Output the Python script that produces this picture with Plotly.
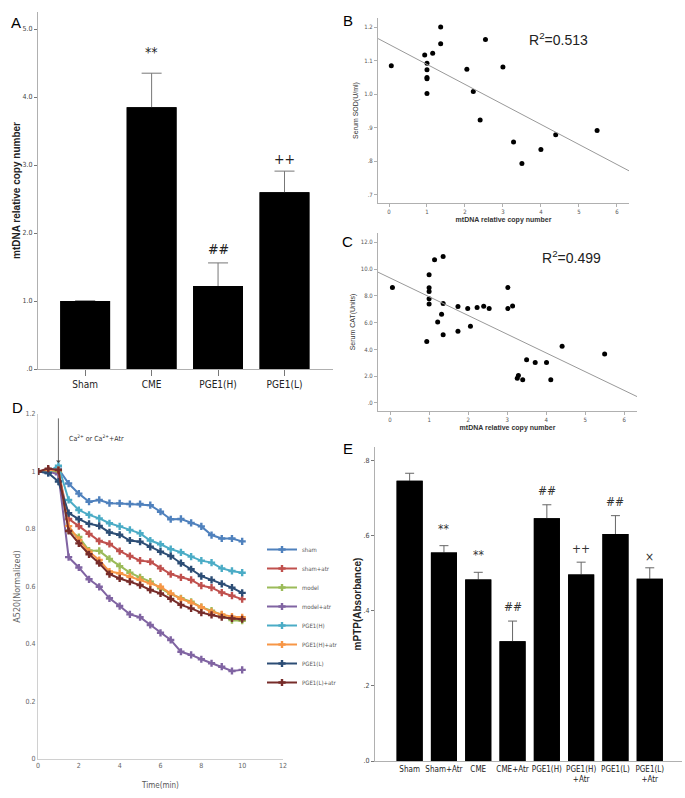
import plotly.graph_objects as go

W, H = 685, 798
NARROW = "Liberation Sans Narrow, DejaVu Sans Condensed, Arial Narrow, sans-serif"
SANS = "Liberation Sans, Arial, sans-serif"

# ---------- Panel A ----------
a_groups = ["Sham", "CME", "PGE1(H)", "PGE1(L)"]
a_values = [1.0, 3.85, 1.22, 2.60]
a_errors = [0.0, 0.50, 0.34, 0.31]
a_marks = ["", "**", "##", "++"]
a_yticks = [0, 1, 2, 3, 4, 5]
a_yticklabels = [".0", "1.0", "2.0", "3.0", "4.0", "5.0"]

# ---------- Panel B ----------
b_x = [0.06, 1.36, 1.36, 0.94, 1.15, 1.0, 1.0, 1.0, 1.0, 1.0, 2.54, 2.05, 3.0, 2.22, 2.40, 3.28, 3.50, 4.0, 4.39, 5.48]
b_y = [1.085, 1.20, 1.15, 1.117, 1.122, 1.092, 1.073, 1.05, 1.046, 1.002, 1.163, 1.074, 1.081, 1.008, 0.923, 0.858, 0.794, 0.835, 0.879, 0.892]
b_fit = (1.1485, -0.0596)  # intercept, slope
b_r2 = "0.513"
b_yticks = [0.7, 0.8, 0.9, 1.0, 1.1, 1.2]
b_yticklabels = [".7", ".8", ".9", "1.0", "1.1", "1.2"]

# ---------- Panel C ----------
c_x = [0.06, 1.14, 1.36, 1.0, 1.0, 1.0, 1.0, 1.0, 1.36, 1.32, 1.22, 1.36, 0.94, 1.74, 1.74, 1.99,
       2.06, 2.23, 2.40, 2.54, 3.02, 3.02, 3.14, 3.26, 3.29, 3.40, 3.50, 3.72, 4.01, 4.12, 4.41, 5.50]
c_y = [8.63, 10.70, 10.95, 9.58, 8.60, 8.33, 7.78, 7.40, 7.43, 6.63, 6.05, 5.10, 4.60, 7.20, 5.35, 7.05,
       5.73, 7.13, 7.23, 7.05, 8.63, 7.05, 7.25, 1.85, 2.05, 1.73, 3.23, 3.03, 3.03, 1.73, 4.23, 3.65]
c_fit = (9.34, -1.40)
c_r2 = "0.499"
c_yticks = [0, 2, 4, 6, 8, 10, 12]
c_yticklabels = [".0", "2.0", "4.0", "6.0", "8.0", "10.0", "12.0"]

# ---------- Panel D ----------
d_time = [0, 0.5, 1.0, 1.5, 2.0, 2.5, 3.0, 3.5, 4.0, 4.5, 5.0, 5.5, 6.0, 6.5, 7.0, 7.5, 8.0, 8.5, 9.0, 9.5, 10.0]
d_names = ["sham", "sham+atr", "model", "model+atr", "PGE1(H)", "PGE1(H)+atr", "PGE1(L)", "PGE1(L)+atr"]
d_colors = ["#4F81BD", "#C0504D", "#9BBB59", "#8064A2", "#4BACC6", "#F79646", "#2C4D75", "#772C2A"]
sham = [1.0, 0.995, 1.01, 0.958, 0.923, 0.895, 0.901, 0.890, 0.889, 0.887, 0.887, 0.883, 0.860, 0.834, 0.835, 0.821, 0.809, 0.779, 0.767, 0.767, 0.757]
sham_atr = [1.0, 1.005, 1.0, 0.835, 0.810, 0.783, 0.758, 0.748, 0.723, 0.706, 0.690, 0.686, 0.663, 0.643, 0.632, 0.623, 0.603, 0.596, 0.579, 0.568, 0.556]
model = [1.0, 1.0, 1.0, 0.795, 0.772, 0.725, 0.724, 0.696, 0.671, 0.648, 0.632, 0.617, 0.594, 0.574, 0.559, 0.547, 0.528, 0.516, 0.501, 0.483, 0.481]
model_atr = [1.0, 1.0, 0.99, 0.702, 0.666, 0.625, 0.599, 0.559, 0.532, 0.503, 0.493, 0.466, 0.439, 0.414, 0.373, 0.362, 0.347, 0.333, 0.321, 0.306, 0.310]
pge1h = [1.0, 1.0, 1.02, 0.901, 0.866, 0.849, 0.837, 0.820, 0.809, 0.797, 0.785, 0.760, 0.747, 0.730, 0.719, 0.704, 0.690, 0.683, 0.663, 0.654, 0.648]
pge1h_atr = [1.0, 1.005, 1.005, 0.810, 0.762, 0.721, 0.692, 0.652, 0.646, 0.634, 0.623, 0.611, 0.599, 0.576, 0.557, 0.544, 0.528, 0.512, 0.503, 0.495, 0.493]
pge1l = [1.0, 0.995, 0.965, 0.855, 0.834, 0.818, 0.811, 0.788, 0.780, 0.760, 0.756, 0.738, 0.721, 0.706, 0.681, 0.660, 0.636, 0.623, 0.609, 0.596, 0.578]
pge1l_atr = [1.0, 1.01, 1.005, 0.793, 0.750, 0.712, 0.681, 0.643, 0.628, 0.617, 0.605, 0.588, 0.576, 0.557, 0.536, 0.524, 0.509, 0.501, 0.493, 0.489, 0.486]
d_series = [sham, sham_atr, model, model_atr, pge1h, pge1h_atr, pge1l, pge1l_atr]
d_arrow_time = 1.0

# ---------- Panel E ----------
e_groups = ["Sham", "Sham+Atr", "CME", "CME+Atr", "PGE1(H)", "PGE1(H)+Atr", "PGE1(L)", "PGE1(L)+Atr"]
e_ticktext = ["Sham", "Sham+Atr", "CME", "CME+Atr", "PGE1(H)", "PGE1(H)<br>+Atr", "PGE1(L)", "PGE1(L)<br>+Atr"]
e_values = [0.747, 0.556, 0.484, 0.319, 0.647, 0.497, 0.605, 0.486]
e_errors = [0.020, 0.018, 0.019, 0.054, 0.036, 0.033, 0.049, 0.029]
e_marks = ["", "**", "**", "##", "##", "++", "##", "\u00d7"]
e_yticks = [0, 0.2, 0.4, 0.6, 0.8]
e_yticklabels = [".0", ".2", ".4", ".6", ".8"]


def px_x(p):
    return p / W


def px_y(p):
    return 1 - p / H


fig = go.Figure()

# A bars: error bars drawn with a first trace, then bars laid on top hide the lower half
fig.add_trace(go.Bar(
    x=a_groups, y=a_values, width=0.75, marker=dict(color="black", line=dict(width=0)),
    error_y=dict(type="data", array=a_errors, color="#777777", thickness=1, width=10),
    xaxis="x", yaxis="y", showlegend=False, hoverinfo="skip"))
fig.add_trace(go.Bar(
    x=a_groups, y=a_values, width=0.75, marker=dict(color="black", line=dict(width=0)),
    xaxis="x", yaxis="y", showlegend=False))

# B scatter + fit
fig.add_trace(go.Scatter(x=b_x, y=b_y, mode="markers", marker=dict(color="black", size=5),
                         xaxis="x2", yaxis="y2", showlegend=False))
b_xr = [-0.29, 6.32]
fig.add_trace(go.Scatter(x=b_xr, y=[b_fit[0] + b_fit[1] * v for v in b_xr], mode="lines",
                         line=dict(color="#999999", width=1), xaxis="x2", yaxis="y2", showlegend=False))

# C scatter + fit
fig.add_trace(go.Scatter(x=c_x, y=c_y, mode="markers", marker=dict(color="black", size=5),
                         xaxis="x3", yaxis="y3", showlegend=False))
c_xr = [-0.31, 6.33]
fig.add_trace(go.Scatter(x=c_xr, y=[c_fit[0] + c_fit[1] * v for v in c_xr], mode="lines",
                         line=dict(color="#999999", width=1), xaxis="x3", yaxis="y3", showlegend=False))

# D lines
for name, col, ser in zip(d_names, d_colors, d_series):
    fig.add_trace(go.Scatter(x=d_time, y=ser, name=name, mode="lines+markers",
                             line=dict(color=col, width=2),
                             marker=dict(symbol="cross", size=6, color=col),
                             xaxis="x4", yaxis="y4", showlegend=True))

# E bars
fig.add_trace(go.Bar(
    x=e_groups, y=e_values, width=0.76, marker=dict(color="black", line=dict(width=0)),
    error_y=dict(type="data", array=e_errors, color="#666666", thickness=1, width=4.5),
    xaxis="x5", yaxis="y5", showlegend=False, hoverinfo="skip"))
fig.add_trace(go.Bar(
    x=e_groups, y=e_values, width=0.76, marker=dict(color="black", line=dict(width=0)),
    xaxis="x5", yaxis="y5", showlegend=False))

axis_gray = "#b0b0b0"
small = dict(family=NARROW, size=6, color="#555555")

layout = dict(
    width=W, height=H, margin=dict(l=0, r=0, t=0, b=0, autoexpand=False),
    paper_bgcolor="white", plot_bgcolor="white", barmode="overlay",
    # A
    xaxis=dict(domain=[px_x(38), px_x(333)], anchor="y", type="category", range=[-0.71, 3.73],
               showline=True, linecolor=axis_gray, ticks="outside", ticklen=6, tickcolor="#777777",
               tickfont=dict(family=NARROW, size=10, color="#222222"), showgrid=False, zeroline=False,
               automargin=False),
    yaxis=dict(domain=[px_y(369), px_y(12)], anchor="x", range=[0, 5.25],
               tickvals=a_yticks, ticktext=a_yticklabels, showline=True, linecolor=axis_gray,
               ticks="outside", ticklen=3, tickcolor="#777777",
               tickfont=dict(family=NARROW, size=7, color="#444444"), showgrid=False, zeroline=False,
               automargin=False,
               title=dict(text="<b>mtDNA relative copy number</b>", standoff=0,
                          font=dict(family=SANS, size=10, color="#222222"))),
    # B
    xaxis2=dict(domain=[px_x(378), px_x(629)], anchor="y2", range=[-0.29, 6.32],
                tickvals=[0, 1, 2, 3, 4, 5, 6], showline=True, linecolor=axis_gray,
                ticks="outside", ticklen=3, tickcolor=axis_gray, tickfont=small,
                showgrid=False, zeroline=False, automargin=False,
                title=dict(text="<b>mtDNA relative copy number</b>", standoff=2,
                           font=dict(family=SANS, size=7, color="#333333"))),
    yaxis2=dict(domain=[px_y(203), px_y(18)], anchor="x2", range=[0.676, 1.227],
                tickvals=b_yticks, ticktext=b_yticklabels, showline=True, linecolor=axis_gray,
                ticks="outside", ticklen=3, tickcolor=axis_gray, tickfont=small,
                showgrid=False, zeroline=False, automargin=False,
                title=dict(text="Serum SOD(U/ml)", standoff=4,
                           font=dict(family=SANS, size=7, color="#333333"))),
    # C
    xaxis3=dict(domain=[px_x(378), px_x(637)], anchor="y3", range=[-0.31, 6.33],
                tickvals=[0, 1, 2, 3, 4, 5, 6], showline=True, linecolor=axis_gray,
                ticks="outside", ticklen=3, tickcolor=axis_gray, tickfont=small,
                showgrid=False, zeroline=False, automargin=False,
                title=dict(text="<b>mtDNA relative copy number</b>", standoff=2,
                           font=dict(family=SANS, size=7, color="#333333"))),
    yaxis3=dict(domain=[px_y(411), px_y(233)], anchor="x3", range=[-0.6, 12.7],
                tickvals=c_yticks, ticktext=c_yticklabels, showline=True, linecolor=axis_gray,
                ticks="outside", ticklen=3, tickcolor=axis_gray, tickfont=small,
                showgrid=False, zeroline=False, automargin=False,
                title=dict(text="Serum CAT(Units)", standoff=4,
                           font=dict(family=SANS, size=7, color="#333333"))),
    # D
    xaxis4=dict(domain=[px_x(38), px_x(283)], anchor="y4", range=[0, 12], dtick=2,
                showline=True, linecolor="#d0d0d0", ticks="", tickfont=dict(family=NARROW, size=7, color="#666666"),
                showgrid=False, zeroline=False, automargin=False,
                title=dict(text="Time(min)", standoff=12, font=dict(family=NARROW, size=8, color="#555555"))),
    yaxis4=dict(domain=[px_y(759), px_y(414)], anchor="x4", range=[0, 1.2], dtick=0.2,
                showline=True, linecolor="#d0d0d0", ticks="", tickfont=dict(family=NARROW, size=7, color="#666666"),
                showgrid=False, zeroline=False, automargin=False,
                title=dict(text="A520(Normalized)", standoff=3, font=dict(family="DejaVu Sans, sans-serif", size=8, color="#666666"))),
    # E
    xaxis5=dict(domain=[px_x(375), px_x(682)], anchor="y5", type="category", range=[-1.01, 7.94],
                tickvals=e_groups, ticktext=e_ticktext, tickangle=0, showline=True, linecolor=axis_gray,
                ticks="", tickfont=dict(family=NARROW, size=8, color="#222222"),
                showgrid=False, zeroline=False, automargin=False),
    yaxis5=dict(domain=[px_y(761), px_y(447)], anchor="x5", range=[0, 0.837],
                tickvals=e_yticks, ticktext=e_yticklabels, showline=True, linecolor=axis_gray,
                ticks="outside", ticklen=3, tickcolor="#777777",
                tickfont=dict(family=NARROW, size=7, color="#444444"), showgrid=False, zeroline=False,
                automargin=False,
                title=dict(text="<b>mPTP(Absorbance)</b>", standoff=0,
                           font=dict(family=SANS, size=10, color="#222222"))),
    legend=dict(x=px_x(262), y=px_y(535), xanchor="left", yanchor="top", bgcolor="rgba(0,0,0,0)",
                font=dict(family=NARROW, size=6, color="#555555"), itemwidth=30, tracegroupgap=0),
)
fig.update_layout(**layout)

ann = []
# panel letters
for letter, x, y in [("A", 9, 12), ("B", 348, 10), ("C", 348, 231), ("D", 10, 407), ("E", 348, 448)]:
    ann.append(dict(text=letter, x=px_x(x), y=px_y(y), xref="paper", yref="paper", showarrow=False,
                    font=dict(family=SANS, size=15, color="black")))

# A marks
a_shift = {"**": 21, "##": 14, "++": 12}
for g, v, e, m in zip(a_groups, a_values, a_errors, a_marks):
    if m:
        ann.append(dict(text=m, x=g, y=v + e, xref="x", yref="y", showarrow=False, yanchor="middle",
                        yshift=a_shift[m], font=dict(family=NARROW, size=14, color="#222222")))

# E marks
e_shift = {"**": 17, "##": 14, "++": 13, "\u00d7": 11}
for g, v, e, m in zip(e_groups, e_values, e_errors, e_marks):
    if m:
        ann.append(dict(text=m, x=g, y=v + e, xref="x5", yref="y5", showarrow=False, yanchor="middle",
                        yshift=e_shift[m], font=dict(family=NARROW, size=12, color="#333333")))

# R^2
ann.append(dict(text="R<sup>2</sup>=" + b_r2, x=px_x(590), y=px_y(28), xref="paper", yref="paper",
                showarrow=False, font=dict(family=SANS, size=14, color="#222222")))
ann.append(dict(text="R<sup>2</sup>=" + c_r2, x=px_x(603), y=px_y(246), xref="paper", yref="paper",
                showarrow=False, font=dict(family=SANS, size=14, color="#222222")))

# D arrow
ann.append(dict(text="", x=d_arrow_time, y=1.03, xref="x4", yref="y4", showarrow=True,
                ax=0, ay=-46, arrowhead=1, arrowsize=1, arrowwidth=0.8, arrowcolor="#444444"))
ann.append(dict(text="Ca<sup>2+</sup> or Ca<sup>2+</sup>+Atr", x=px_x(67), y=px_y(438),
                xref="paper", yref="paper", xanchor="left", showarrow=False,
                font=dict(family=NARROW, size=7, color="#333333")))

fig.update_layout(annotations=ann)
fig.write_html("out.html", config={"displayModeBar": False},
               post_script="document.body.style.margin='0';document.body.style.overflow='hidden';")
